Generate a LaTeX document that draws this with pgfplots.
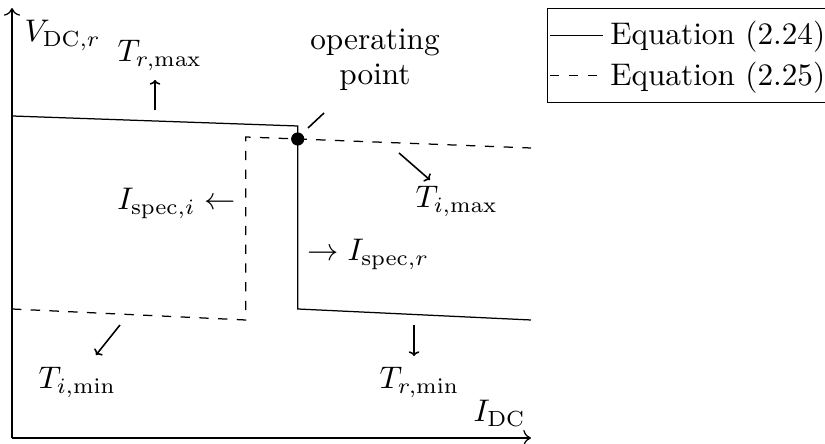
\documentclass[border=0pt]{standalone}
\usepackage{pgfplots}
\pgfplotsset{compat=1.18}
\usetikzlibrary{arrows.meta}
\tikzset{
  lbl/.style={inner sep=0pt, anchor=base west},
  dir/.style={line width=0.5pt, -{To[length=1.5pt, width=3.4pt]}},
}

% curves of the DC operating characteristic (x: I_DC, y: V_DC,r), sketch units
\pgfplotstableread{
x     y
12    -116
297.7 -126
297.7 -309
531   -320
}\rectifiercurve
\pgfplotstableread{
x     y
12    -309
245.7 -320
245.7 -137
531   -148
}\invertercurve

\begin{document}
\begin{tikzpicture}
\begin{axis}[
  x=0.32pt, y=0.32pt,
  xmin=12, xmax=531, ymin=-438, ymax=-8,
  axis lines=left,
  axis line style={->},
  xtick=\empty, ytick=\empty,
  clip=false,
  legend cell align=left,
  legend style={at={(1.0308,1)}, anchor=north west, draw=black, inner xsep=0.6pt},
]
\addplot[black, thin] table[x=x, y=y] {\rectifiercurve};
\addlegendentry{Equation (2.24)}
\addplot[black, thin, dashed] table[x=x, y=y] {\invertercurve};
\addlegendentry{Equation (2.25)}
\addplot[black, only marks, mark=*, mark size=1.9pt, forget plot] coordinates {(297.7,-139)};

% axis names
\node[lbl] at (axis cs:24,-42) {$V_{\mathrm{DC},r}$};
\node[lbl] at (axis cs:473,-422) {$I_{\mathrm{DC}}$};

% operating point
\node[inner sep=0pt, anchor=base] at (axis cs:375,-50) {operating};
\node[inner sep=0pt, anchor=base] at (axis cs:375,-85) {point};
\draw[line width=0.5pt] (axis cs:308,-128) -- (axis cs:324,-113);

% temperature directions
\draw[dir] (axis cs:155,-110) -- (axis cs:155,-80);
\node[lbl] at (axis cs:117,-62) {$T_{r,\mathrm{max}}$};
\draw[dir] (axis cs:399,-153) -- (axis cs:430,-180);
\node[lbl] at (axis cs:415,-208) {$T_{i,\mathrm{max}}$};
\draw[dir] (axis cs:120,-325) -- (axis cs:96,-355);
\node[lbl] at (axis cs:38,-389) {$T_{i,\mathrm{min}}$};
\draw[dir] (axis cs:414,-325) -- (axis cs:414,-356);
\node[lbl] at (axis cs:379,-389) {$T_{r,\mathrm{min}}$};

% current limits
\node[inner sep=0pt, anchor=base east] at (axis cs:236,-209.5) {$I_{\mathrm{spec},i} \leftarrow$};
\node[lbl] at (axis cs:307,-261) {$\rightarrow I_{\mathrm{spec},r}$};

\coordinate (bbA) at (axis cs:0,-444);
\coordinate (bbB) at (axis cs:825,0);
\end{axis}
\pgfresetboundingbox
\path (bbA) rectangle (bbB);
\end{tikzpicture}
\end{document}
